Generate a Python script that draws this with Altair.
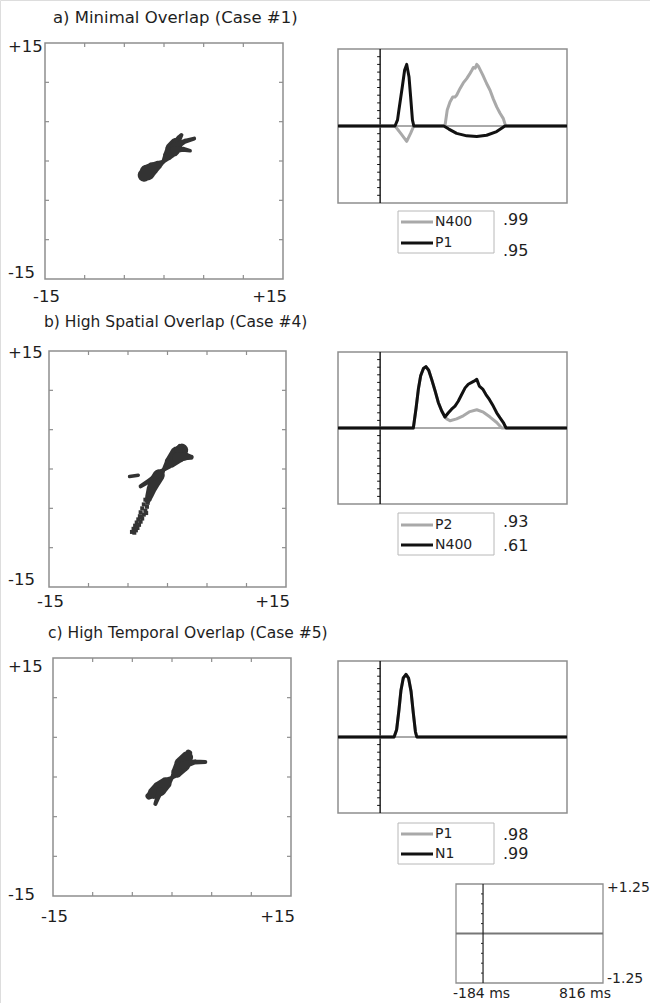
import altair as alt
import pandas as pd

FONT = "DejaVu Sans"
INK = "#1e1e1e"
FRAME = "#8e8e8e"
BLOB = "#333333"
GRAY = "#a9a9a9"
BLACK = "#111111"

# ---------------- texts / tick values ----------------
panel_titles = ["a) Minimal Overlap (Case #1)",
                "b) High Spatial Overlap (Case #4)",
                "c) High Temporal Overlap (Case #5)"]
scatter_end_labels = ["-15", "+15"]
scatter_domain = [-15, 15]
scatter_ticks = [-10, -5, 0, 5, 10]

time_domain = [-184, 816]
amp_domain = [-1.25, 1.25]
amp_ticks = [-1.125, -1.0, -0.875, -0.75, -0.625, -0.5, -0.375, -0.25, -0.125,
             0.125, 0.25, 0.375, 0.5, 0.625, 0.75, 0.875, 1.0, 1.125]
scale_box_ticks = [-1.0, -0.75, -0.5, -0.25, 0.25, 0.5, 0.75, 1.0]
scale_amp_labels = ["+1.25", "-1.25"]
scale_time_labels = ["-184 ms", "816 ms"]

legend_names = [["N400", "P1"], ["P2", "N400"], ["P1", "N1"]]
legend_r = [[".99", ".95"], [".93", ".61"], [".98", ".99"]]

# ---------------- scatter blobs: arms of (x, y, width px) ----------------
blob_a = {
    "lower": [(-0.1, -0.1, 4), (-0.8, -0.55, 9), (-1.5, -1.0, 13), (-2.1, -1.45, 16), (-2.5, -1.8, 13)],
    "upper": [(-0.1, -0.1, 4), (0.5, 0.7, 10), (1.1, 1.5, 15), (1.5, 2.1, 13)],
    "finger1": [(1.3, 1.9, 8), (1.9, 2.9, 6), (2.2, 3.3, 4)],
    "finger2": [(1.3, 1.8, 8), (2.6, 2.5, 5), (3.8, 2.85, 4)],
    "finger3": [(1.2, 1.4, 7), (2.4, 1.5, 5), (3.3, 1.3, 3.5)],
}
blob_b = {
    "upper": [(-0.5, -0.1, 4), (0.4, 0.9, 12), (1.3, 1.8, 17), (1.8, 2.4, 13)],
    "top": [(1.4, 2.4, 8), (1.6, 2.8, 6)],
    "lobe": [(1.2, 1.5, 10), (2.3, 1.6, 8), (3.0, 1.5, 5)],
    "lower": [(-0.5, -0.1, 4), (-1.1, -0.8, 12), (-1.6, -1.6, 12), (-2.0, -2.5, 10), (-2.3, -3.4, 8),
              (-2.5, -4.0, 6)],
    "finger": [(-1.0, -0.6, 6), (-2.3, -1.5, 5), (-3.4, -2.2, 4)],
    "dash": [(-4.8, -0.95, 3.5), (-3.7, -0.8, 3.5)],
}
blob_b_dots_x = [-2.3, -2.8, -2.5, -3.0, -2.6, -3.2, -2.8, -3.4, -3.0, -2.7, -3.5, -3.2, -3.7, -3.4,
                 -3.9, -3.6, -4.1, -3.8, -4.3, -4.0, -4.5, -4.2, -3.3, -3.9]
blob_b_dots_y = [-3.8, -3.9, -4.3, -4.5, -4.8, -5.0, -5.3, -5.5, -5.8, -5.6, -6.0, -6.3, -6.4, -6.7,
                 -6.8, -7.1, -7.2, -7.5, -7.6, -7.8, -8.0, -8.1, -6.1, -7.4]
blob_c = {
    "upper": [(0.0, -0.1, 4), (0.6, 0.6, 11), (1.3, 1.6, 16), (1.9, 2.5, 12), (2.1, 3.0, 7)],
    "finger": [(1.4, 1.5, 8), (2.9, 1.9, 5), (4.2, 1.9, 4)],
    "lower": [(0.0, -0.1, 4), (-0.8, -0.8, 12), (-1.6, -1.5, 15), (-2.3, -2.0, 12), (-2.9, -2.4, 7)],
    "toe": [(-1.5, -1.7, 7), (-1.8, -2.6, 5), (-2.1, -3.4, 4)],
}

# ---------------- waveforms (time ms, amplitude) ----------------
a_gray_t = [-184, 65, 90, 116, 133, 147, 283, 293, 305, 317, 327, 334, 349, 363, 378, 392, 400, 407,
            415, 422, 429, 436, 448, 465, 480, 494, 509, 523, 538, 548, 816]
a_gray_v = [0, 0, -0.12, -0.25, -0.12, 0, 0, 0.26, 0.39, 0.47, 0.47, 0.50, 0.61, 0.70, 0.77, 0.85, 0.90,
            0.95, 0.94, 1.0, 0.97, 0.92, 0.83, 0.69, 0.58, 0.44, 0.31, 0.21, 0.12, 0, 0]
a_black_t = [-184, 65, 76, 82, 97, 107, 116, 126, 133, 141, 147, 278, 300, 334, 378, 422, 465, 509, 545, 816]
a_black_v = [0, 0, 0.10, 0.26, 0.64, 0.91, 1.0, 0.80, 0.48, 0.10, 0, 0, -0.05, -0.12, -0.16, -0.17,
             -0.15, -0.09, 0, 0]

b_gray_t = [-184, 145, 157, 167, 177, 189, 200, 212, 225, 240, 254, 269, 283, 291, 305, 334, 363, 392,
            422, 451, 480, 509, 531, 816]
b_gray_v = [0, 0, 0.33, 0.64, 0.86, 0.98, 1.01, 0.95, 0.80, 0.61, 0.42, 0.28, 0.18, 0.15, 0.12, 0.15,
            0.20, 0.27, 0.30, 0.26, 0.18, 0.09, 0, 0]
b_black_t = [-184, 145, 157, 167, 177, 189, 200, 212, 225, 240, 254, 269, 283, 298, 312, 327, 341, 356,
             371, 385, 400, 410, 422, 433, 448, 462, 477, 494, 509, 523, 538, 550, 816]
b_black_v = [0, 0, 0.33, 0.64, 0.86, 0.98, 1.01, 0.95, 0.80, 0.61, 0.42, 0.28, 0.18, 0.25, 0.31, 0.36,
             0.44, 0.55, 0.66, 0.72, 0.75, 0.77, 0.80, 0.69, 0.64, 0.55, 0.47, 0.36, 0.25, 0.17, 0.09, 0, 0]

c_gray_t = [-184, 61, 72, 82, 91, 101, 113, 124, 135, 145, 154, 160, 816]
c_gray_v = [0, 0, 0.12, 0.44, 0.77, 0.97, 1.03, 0.97, 0.75, 0.39, 0.09, 0, 0]
c_black_t = [-184, 61, 72, 82, 91, 101, 113, 124, 135, 145, 154, 160, 816]
c_black_v = [0, 0, 0.12, 0.44, 0.77, 0.97, 1.03, 0.97, 0.75, 0.39, 0.09, 0, 0]

waves = [(a_gray_t, a_gray_v, a_black_t, a_black_v),
         (b_gray_t, b_gray_v, b_black_t, b_black_v),
         (c_gray_t, c_gray_v, c_black_t, c_black_v)]
blobs = [blob_a, blob_b, blob_c]

# ---------------- layout (pixel boxes) ----------------
layout = [
    dict(title=(53, 18), sc=(45, 283, 43, 279), left_lab=(47, 273), bottom_lab=297, tsize=16.5,
         wv=(338, 567, 49, 203), leg=(398, 494, 211, 253), leg_rows=(222, 243), r_rows=(220, 251)),
    dict(title=(44, 322), sc=(49, 286, 351, 587), left_lab=(353, 580), bottom_lab=602, tsize=15.5,
         wv=(338, 567, 352, 504), leg=(398, 494, 513, 555), leg_rows=(525, 545), r_rows=(522, 546)),
    dict(title=(48, 633), sc=(53, 291, 658, 896), left_lab=(667, 895), bottom_lab=917, tsize=15.5,
         wv=(338, 567, 661, 813), leg=(398, 494, 823, 864), leg_rows=(834, 854), r_rows=(835, 854)),
]
scale_box = (456, 603, 884, 983)


def one_row():
    return pd.DataFrame({"k": [0]})


def label(txt, x, y, align="left", size=16.5):
    return alt.Chart(pd.DataFrame({"t": [txt]})).mark_text(
        align=align, baseline="middle", font=FONT, fontSize=size, color=INK
    ).encode(x=alt.value(x), y=alt.value(y), text="t:N")


def frame_ticks(X, Y, lo, hi, ticks, color, length_size):
    df = pd.DataFrame({"p": ticks, "lo": lo, "hi": hi})
    base = alt.Chart(df)
    kw = dict(size=length_size, color=color, strokeWidth=1.2, filled=False, opacity=1)
    return [
        base.mark_point(shape="M0,0L0,1", **kw).encode(x=X("p"), y=Y("hi")),
        base.mark_point(shape="M0,0L0,-1", **kw).encode(x=X("p"), y=Y("lo")),
        base.mark_point(shape="M0,0L1,0", **kw).encode(x=X("lo"), y=Y("p")),
        base.mark_point(shape="M0,0L-1,0", **kw).encode(x=X("hi"), y=Y("p")),
    ]


def scatter_panel(i):
    L = layout[i]
    x0, x1, y0, y1 = L["sc"]
    xs = alt.Scale(domain=scatter_domain, range=[x0, x1], nice=False, zero=False)
    ys = alt.Scale(domain=scatter_domain, range=[y1, y0], nice=False, zero=False)
    X = lambda f: alt.X(f, type="quantitative", scale=xs, axis=None)
    Y = lambda f: alt.Y(f, type="quantitative", scale=ys, axis=None)

    box = alt.Chart(pd.DataFrame({"lo": [scatter_domain[0]], "hi": [scatter_domain[1]]})).mark_rect(
        fillOpacity=0, stroke=FRAME, strokeWidth=1.5
    ).encode(x=X("lo"), x2=alt.X2("hi"), y=Y("lo"), y2=alt.Y2("hi"))

    ticks = frame_ticks(X, Y, scatter_domain[0], scatter_domain[1], scatter_ticks, FRAME, 64)

    rows = []
    for arm, pts in blobs[i].items():
        for k, (x, y, w) in enumerate(pts):
            rows.append(dict(arm=arm, k=k, x=x, y=y, w=w))
    blob = alt.Chart(pd.DataFrame(rows)).mark_trail(color=BLOB).encode(
        x=X("x"), y=Y("y"),
        size=alt.Size("w:Q", scale=None, legend=None),
        detail="arm:N", order=alt.Order("k:Q"))

    layers = [box] + ticks + [blob]
    if i == 1:
        dots = alt.Chart(pd.DataFrame({"x": blob_b_dots_x, "y": blob_b_dots_y})).mark_square(
            size=16, color=BLOB, opacity=1).encode(x=X("x"), y=Y("y"))
        layers.append(dots)
    return alt.layer(*layers)


def wave_panel(i):
    L = layout[i]
    x0, x1, y0, y1 = L["wv"]
    xs = alt.Scale(domain=time_domain, range=[x0, x1], nice=False, zero=False)
    ys = alt.Scale(domain=amp_domain, range=[y1, y0], nice=False, zero=False)
    X = lambda f: alt.X(f, type="quantitative", scale=xs, axis=None)
    Y = lambda f: alt.Y(f, type="quantitative", scale=ys, axis=None)

    lim = pd.DataFrame({"tlo": [time_domain[0]], "thi": [time_domain[1]],
                        "alo": [amp_domain[0]], "ahi": [amp_domain[1]], "z": [0]})
    box = alt.Chart(lim).mark_rect(fillOpacity=0, stroke=FRAME, strokeWidth=1.5).encode(
        x=X("tlo"), x2=alt.X2("thi"), y=Y("alo"), y2=alt.Y2("ahi"))
    zero_h = alt.Chart(lim).mark_rule(color="#555555", strokeWidth=1).encode(
        x=X("tlo"), x2=alt.X2("thi"), y=Y("z"))
    zero_v = alt.Chart(lim).mark_rule(color=BLACK, strokeWidth=1.4).encode(
        x=X("z"), y=Y("alo"), y2=alt.Y2("ahi"))
    vt = alt.Chart(pd.DataFrame({"a": amp_ticks, "z": 0})).mark_point(
        shape="M0,0L-1,0", size=36, color=BLACK, strokeWidth=1, filled=False, opacity=1
    ).encode(x=X("z"), y=Y("a"))

    gt, gv, bt, bv = waves[i]
    gray = alt.Chart(pd.DataFrame({"t": gt, "v": gv})).mark_line(
        color=GRAY, strokeWidth=3, strokeJoin="round").encode(x=X("t"), y=Y("v"))
    black = alt.Chart(pd.DataFrame({"t": bt, "v": bv})).mark_line(
        color=BLACK, strokeWidth=3, strokeJoin="round").encode(x=X("t"), y=Y("v"))
    return alt.layer(box, zero_h, zero_v, vt, gray, black)


def legend_panel(i):
    L = layout[i]
    bx0, bx1, by0, by1 = L["leg"]
    names = legend_names[i]
    df = pd.DataFrame({"name": names, "col": [GRAY, BLACK]})
    ys = alt.Scale(type="point", domain=names, range=list(L["leg_rows"]), padding=0)
    box = alt.Chart(one_row()).mark_rect(fillOpacity=0, stroke="#b8b8b8", strokeWidth=1).encode(
        x=alt.value(bx0), x2=alt.value(bx1), y=alt.value(by0), y2=alt.value(by1))
    samples = alt.Chart(df).mark_rule(strokeWidth=3).encode(
        x=alt.value(bx0 + 3), x2=alt.value(bx0 + 35),
        y=alt.Y("name:N", scale=ys, axis=None),
        color=alt.Color("col:N", scale=None, legend=None))
    labels = alt.Chart(df).mark_text(align="left", baseline="middle", font=FONT, fontSize=14,
                                     color=INK).encode(
        x=alt.value(bx0 + 37), y=alt.Y("name:N", scale=ys, axis=None), text="name:N")
    return alt.layer(box, samples, labels)


def r_panel(i):
    L = layout[i]
    names = legend_names[i]
    df = pd.DataFrame({"name": names, "r": legend_r[i]})
    ys = alt.Scale(type="point", domain=names, range=list(L["r_rows"]), padding=0)
    return alt.Chart(df).mark_text(align="left", baseline="middle", font=FONT, fontSize=16,
                                   color=INK).encode(
        x=alt.value(L["leg"][1] + 9), y=alt.Y("name:N", scale=ys, axis=None), text="r:N")


def scatter_labels(i):
    L = layout[i]
    x0, x1, y0, y1 = L["sc"]
    ty_top, ty_bot = L["left_lab"]
    return [
        label(panel_titles[i], L["title"][0], L["title"][1], size=L["tsize"]),
        label(scatter_end_labels[1], 8, ty_top),
        label(scatter_end_labels[0], 8, ty_bot),
        label(scatter_end_labels[0], x0 - 12, L["bottom_lab"]),
        label(scatter_end_labels[1], x1 + 4, L["bottom_lab"], align="right"),
    ]


def scale_panel():
    x0, x1, y0, y1 = scale_box
    xs = alt.Scale(domain=time_domain, range=[x0, x1], nice=False, zero=False)
    ys = alt.Scale(domain=amp_domain, range=[y1, y0], nice=False, zero=False)
    X = lambda f: alt.X(f, type="quantitative", scale=xs, axis=None)
    Y = lambda f: alt.Y(f, type="quantitative", scale=ys, axis=None)
    lim = pd.DataFrame({"tlo": [time_domain[0]], "thi": [time_domain[1]],
                        "alo": [amp_domain[0]], "ahi": [amp_domain[1]], "z": [0]})
    box = alt.Chart(lim).mark_rect(fillOpacity=0, stroke=FRAME, strokeWidth=1.3).encode(
        x=X("tlo"), x2=alt.X2("thi"), y=Y("alo"), y2=alt.Y2("ahi"))
    zero_h = alt.Chart(lim).mark_rule(color="#777777", strokeWidth=2).encode(
        x=X("tlo"), x2=alt.X2("thi"), y=Y("z"))
    zero_v = alt.Chart(lim).mark_rule(color="#222222", strokeWidth=1.2).encode(
        x=X("z"), y=Y("alo"), y2=alt.Y2("ahi"))
    vt = alt.Chart(pd.DataFrame({"a": scale_box_ticks, "z": 0})).mark_point(
        shape="M0,0L-1,0", size=16, color="#222222", strokeWidth=1, filled=False, opacity=1
    ).encode(x=X("z"), y=Y("a"))
    return alt.layer(box, zero_h, zero_v, vt)


layers = []
for i in range(3):
    layers.append(scatter_panel(i))
    layers.extend(scatter_labels(i))
    layers.append(wave_panel(i))
    layers.append(legend_panel(i))
    layers.append(r_panel(i))

layers.append(scale_panel())
sx0, sx1, sy0, sy1 = scale_box
layers.append(label(scale_amp_labels[0], sx1 + 4, sy0 + 4, size=14))
layers.append(label(scale_amp_labels[1], sx1 + 4, sy1 - 4, size=14))
layers.append(label(scale_time_labels[0], sx0 - 3, sy1 + 11, size=14))
layers.append(label(scale_time_labels[1], sx1 + 8, sy1 + 11, align="right", size=14))

chart = alt.layer(*layers).resolve_scale(
    x="independent", y="independent"
).properties(
    width=650, height=1003, padding=0,
    autosize=alt.AutoSizeParams(type="none")
).configure_view(stroke=None).configure(background="white")

chart.save("out.html", embed_options={"renderer": "svg", "actions": False})
